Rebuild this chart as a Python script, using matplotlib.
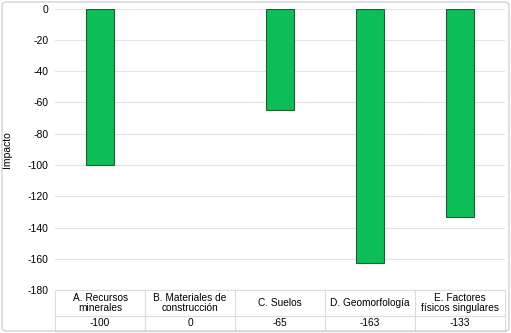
import numpy as np
import matplotlib
matplotlib.use('Agg')
import matplotlib.pyplot as plt
from matplotlib.patches import FancyBboxPatch

# data
categories = ['A. Recursos\nminerales', 'B. Materiales de\nconstrucción', 'C. Suelos',
              'D. Geomorfología', 'E. Factores\nfísicos singulares']
values = [-100, 0, -65, -163, -133]
yticks = np.arange(-180, 1, 20)

plt.rcParams['font.family'] = ['Liberation Sans', 'DejaVu Sans']

fig = plt.figure(figsize=(5.11, 3.33), dpi=100)
ax = fig.add_axes([0.108, 0.129, 0.880, 0.845])

# outer border of the chart
fig.patches.append(FancyBboxPatch((0.004, 0.006), 0.992, 0.988, boxstyle='round,pad=0,rounding_size=0.01',
                                  transform=fig.transFigure, fill=False, ec='#c8c8c8', lw=0.8))

x = np.arange(len(categories))
lw = [0.8 if v != 0 else 0 for v in values]
ax.bar(x, values, width=0.31, color='#0dbd57', edgecolor='#1d5e33', linewidth=lw, zorder=3)

ax.set_xlim(-0.5, len(categories) - 0.5)
ax.set_ylim(-180, 0)
ax.set_yticks(yticks)
ax.set_yticklabels([str(v) for v in yticks], fontsize=7.5)
ax.tick_params(axis='y', length=0, pad=5)
ax.set_xticks([])
ax.grid(axis='y', color='#e3e3e3', lw=0.8, zorder=0)
for s in ax.spines.values():
    s.set_visible(False)
ax.set_ylabel('Impacto', fontsize=7.5)
ax.yaxis.set_label_coords(-0.095, 0.5)

# data table under the plot
tbl = ax.table(cellText=[categories, [str(v) for v in values]], cellLoc='center',
               bbox=[0, -0.145, 1, 0.145])
tbl.auto_set_font_size(False)
for (r, c), cell in tbl.get_celld().items():
    cell.set_edgecolor('#dcdcdc')
    cell.set_linewidth(0.8)
    cell.get_text().set_fontsize(7.3)
    cell.get_text().set_linespacing(1.0)
    if r == 0:
        cell.set_height(0.64)
    else:
        cell.set_height(0.36)

fig.savefig('out.png', dpi=100)
